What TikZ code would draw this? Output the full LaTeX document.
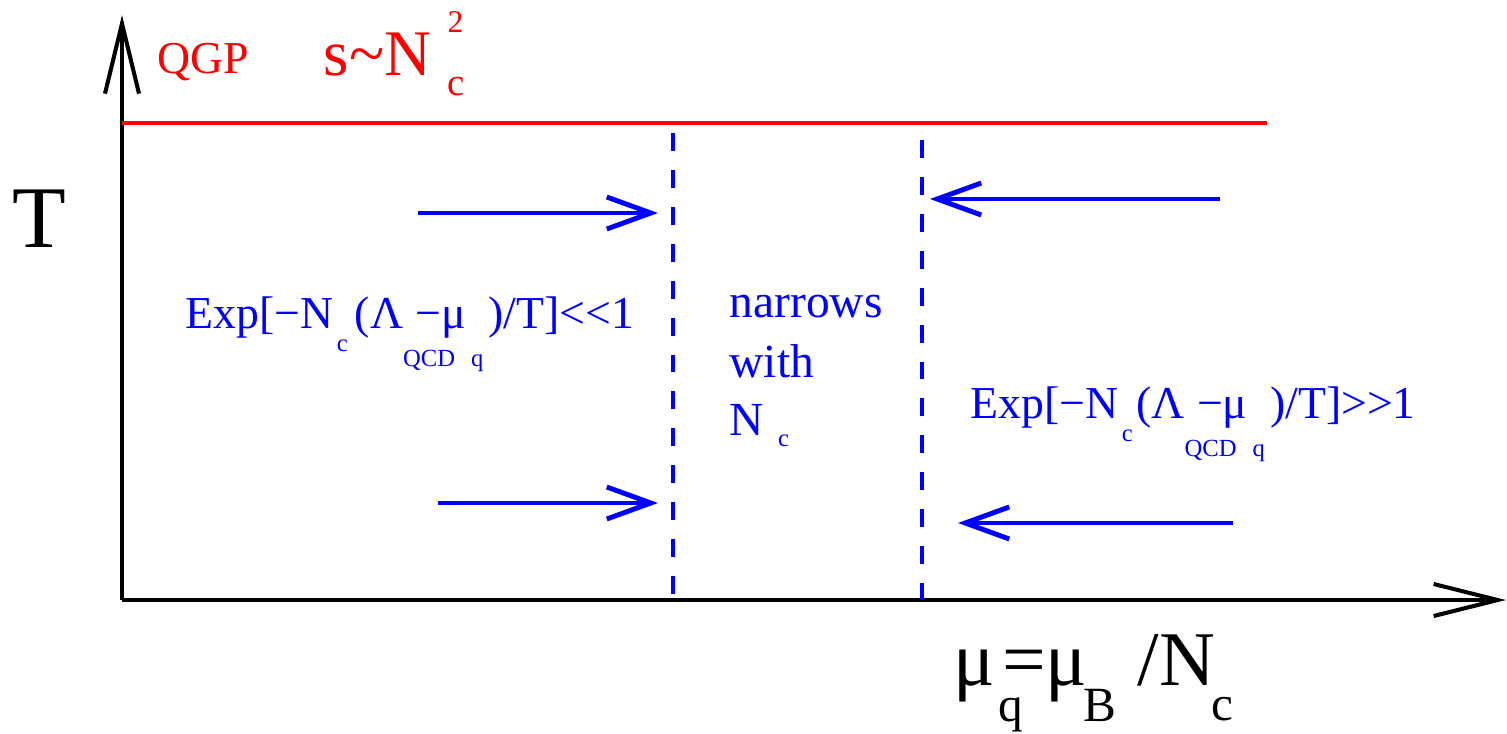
\documentclass[tikz,border=0pt]{standalone}
\usepackage{fontspec}
\setmainfont{Liberation Serif}
\usetikzlibrary{arrows.meta,positioning,calc}
\newcommand{\fs}[1]{\fontsize{#1}{#1}\selectfont}
\newcommand{\lowtext}[3]{\raisebox{-#1}{\fs{#2}#3}}

\begin{document}
\begin{tikzpicture}[x=0.01cm,y=-0.01cm,
  axis/.style={line width=1.15pt,black},
  flow/.style={line width=1.4pt,blue,-{Straight Barb[length=4.4mm,width=3.2mm,line width=1.4pt]}},
  border/.style={line width=1.4pt,blue,dash pattern=on 5.1pt off 5.4pt},
  lbl/.style={anchor=base west,inner sep=0pt}]
\useasboundingbox (0,0) rectangle (1507,733);
% axes
\coordinate (O) at (122,600);
\coordinate (Ttip) at (122,15);
\coordinate (Mtip) at (1506,600);
\draw[axis,-{Straight Barb[length=7mm,width=3.4mm,line width=1.15pt]}] (O)--(Ttip);
\draw[axis,-{Straight Barb[length=6.4mm,width=3.2mm,line width=1.15pt]}] (O)--(Mtip);
% QGP boundary
\coordinate (qgpL) at (122,123);\coordinate (qgpR) at (1267,123);
\draw[red,line width=1.3pt] (qgpL)--(qgpR);
% crossover band
\coordinate (b1t) at (673,133);\coordinate (b1b) at (673,600);
\coordinate (b2t) at (922,140);\coordinate (b2b) at (922,600);
\draw[border] (b1t)--(b1b);
\draw[border] (b2t)--(b2b);
% arrows toward the band
\coordinate (f1s) at (418,213);\coordinate (f1e) at (658,213);
\coordinate (f2s) at (438,503);\coordinate (f2e) at (658,503);
\coordinate (f3s) at (1220,199);\coordinate (f3e) at (930,199);
\coordinate (f4s) at (1233,523);\coordinate (f4e) at (958,523);
\draw[flow] (f1s)--(f1e);
\draw[flow] (f2s)--(f2e);
\draw[flow] (f3s)--(f3e);
\draw[flow] (f4s)--(f4e);
% labels
\node[lbl] (Tlab) at (12,247) {\fs{25}T};
\node[lbl,red] (qgp) at (157,73) {\fs{13}QGP};
\node[lbl,red] (entropy) at (323,75) {\fs{18.5}s\char"7E N};
\node[lbl,red] (ent2) at (447,32) {\fs{9}2};
\node[lbl,red] (entc) at (447,95) {\fs{11}c};
\node[lbl,blue] (left) at (185,328) {\fs{13}Exp[−N\kern1pt\lowtext{6.8pt}{7}{c}\kern2pt(Λ\rlap{\lowtext{11pt}{7}{QCD}}\kern3.5pt−μ\kern1.5pt\lowtext{11pt}{7}{q}\kern1.5pt)/T]<\kern0pt<1};
\node[lbl,blue] (right) at (970,418) {\fs{13}Exp[−N\kern1pt\lowtext{6.8pt}{7}{c}\kern1pt(Λ\rlap{\lowtext{11pt}{7}{QCD}}\kern3.5pt−μ\kern1.5pt\lowtext{11pt}{7}{q}\kern1.5pt)/T]>\kern0pt>1};
\node[lbl,blue] (nar) at (729,317) {\fs{13.5}narrows};
\node[lbl,blue] (with) at (729,377) {\fs{13.5}with};
\node[lbl,blue] (nc) at (729,435) {\fs{13.5}N\kern4pt\lowtext{3.4pt}{7}{c}};
\node[lbl] (mu) at (953,685) {\fs{22}μ\rlap{\kern1pt\lowtext{10.5pt}{14}{q}}\kern2pt=μ\kern-1pt\lowtext{10.5pt}{14}{B}\kern6pt/N\kern-1pt\lowtext{10pt}{14}{c}};
\end{tikzpicture}
\end{document}
